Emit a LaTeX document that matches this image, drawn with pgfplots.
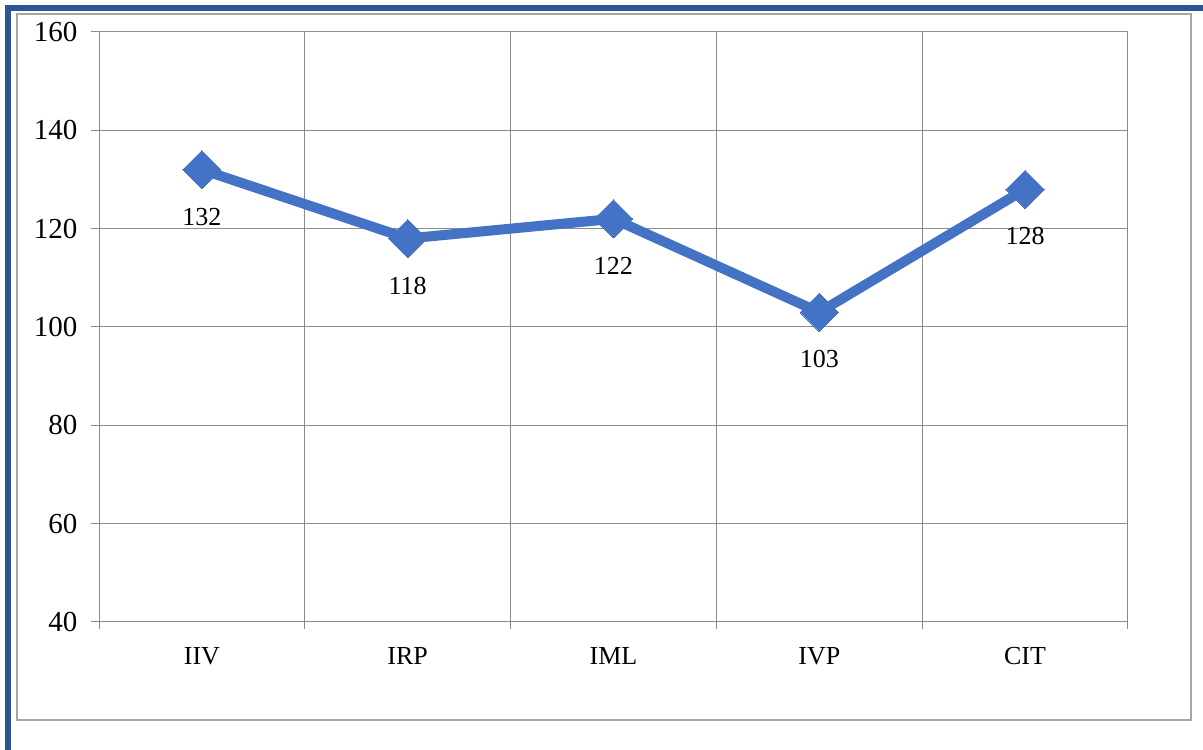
\documentclass[border=0pt]{standalone}
\usepackage{pgfplots}
\pgfplotsset{compat=1.18}
\usepackage{fontspec}
\setmainfont{Liberation Serif}
\definecolor{frameblue}{HTML}{2F5597}
\definecolor{lineblue}{HTML}{4472C4}
\definecolor{gridgray}{HTML}{8C8C8C}
\definecolor{boxgray}{HTML}{A6A6A6}
\begin{document}
\begin{tikzpicture}[x=1pt,y=1pt]
\useasboundingbox (0,0) rectangle (1203,750);
\fill[frameblue] (5,739) rectangle (1203,745);
\fill[frameblue] (5,0) rectangle (11,745);
\draw[boxgray, line width=1.5pt] (17,30) rectangle (1191,736);
\begin{axis}[
  at={(99pt,128pt)}, anchor=south west,
  scale only axis, width=1029pt, height=590pt,
  xmin=-0.5, xmax=4.5, ymin=40, ymax=160,
  xtick={0,1,2,3,4},
  xticklabels={IIV,IRP,IML,IVP,CIT},
  minor xtick={-0.5,0.5,1.5,2.5,3.5,4.5},
  xminorgrids, ymajorgrids,
  major x tick style={draw=none},
  ytick={40,60,80,100,120,140,160},
  xtick pos=bottom, ytick pos=left,
  tick align=outside,
  major tick length=8pt, minor tick length=7pt,
  tick style={gridgray, line width=1pt},
  grid style={gridgray, line width=1pt},
  axis line style={gridgray, line width=1pt},
  /pgf/number format/assume math mode=true,
  yticklabel style={font=\fontsize{29}{29}\selectfont, xshift=-10pt},
  xticklabel style={font=\fontsize{26}{26}\selectfont, yshift=-14pt},
  nodes near coords,
  every node near coord/.append style={font=\fontsize{26}{26}\selectfont, anchor=center, yshift=-47pt, text=black},
  clip=false,
]
\addplot[lineblue, line width=10pt, mark=square*, mark size=13.5pt,
  mark options={fill=lineblue, draw=lineblue, line width=0pt, rotate=45}]
  coordinates {(0,132) (1,118) (2,122) (3,103) (4,128)};
\end{axis}
\end{tikzpicture}
\end{document}
